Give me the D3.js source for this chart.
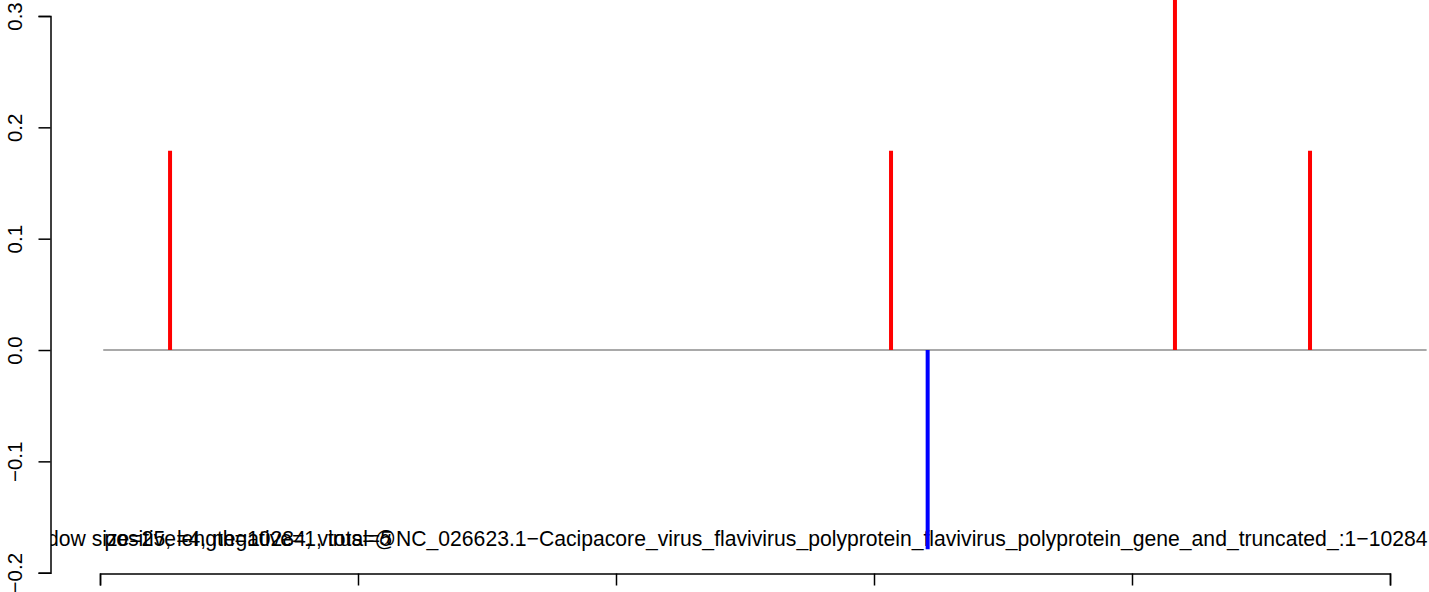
<!DOCTYPE html>
<html><head><meta charset="utf-8">
<script src="https://cdn.jsdelivr.net/npm/d3@7"></script>
<style>body{margin:0;background:#fff}svg{display:block}</style>
</head><body>
<script>
const positions = [543, 6132, 8333, 9380, 6416];
const values = [0.179, 0.179, 0.36, 0.179, -0.179];
const colors = ["#ff0000", "#ff0000", "#ff0000", "#ff0000", "#0000ff"];
const xTicks = [0, 2000, 4000, 6000, 8000, 10000];
const yTicks = [-0.2, -0.1, 0.0, 0.1, 0.2, 0.3];
const yTickLabels = ["\u22120.2", "\u22120.1", "0.0", "0.1", "0.2", "0.3"];
const baselineRange = [25, 10284];
const titleHead = "window size=25, length=10284, virus=@";
const titleTail = "NC_026623.1\u2212Cacipacore_virus_flavivirus_polyprotein_flavivirus_polyprotein_gene_and_truncated_:1\u221210284";
const titleOverlay = "positive=4, negative=1, total=5";

const W = 1429, H = 592;
const svg = d3.select("body").append("svg").attr("width", W).attr("height", H);
const x = d3.scaleLinear().domain([0, 10000]).range([100, 1390]);
const y = d3.scaleLinear().domain([-0.2, 0.3]).range([572.7, 16]);
const font = "Liberation Sans, Arial, Helvetica, sans-serif";

svg.append("defs").append("clipPath").attr("id", "plotclip")
  .append("rect").attr("x", 51).attr("y", 0).attr("width", W - 51).attr("height", H);

const g = svg.append("g").attr("clip-path", "url(#plotclip)");

// title texts: tail spans from the split point to the right edge
const splitX = 396, endX = 1428;
const probe = g.append("text").attr("font-family", font).attr("font-size", 20).text(titleTail);
const tailLen = probe.node().getComputedTextLength();
probe.remove();
const fs = 20 * (endX - splitX) / tailLen;
g.append("text").attr("x", splitX).attr("y", 546)
  .attr("font-family", font).attr("font-size", fs).attr("fill", "#000").text(titleTail);
g.append("text").attr("x", splitX).attr("y", 546).attr("text-anchor", "end")
  .attr("font-family", font).attr("font-size", fs).attr("fill", "#000").text(titleHead);
g.append("text").attr("x", splitX - 4).attr("y", 546).attr("text-anchor", "end")
  .attr("font-family", font).attr("font-size", fs).attr("fill", "#000").text(titleOverlay);

// zero line
g.append("line").attr("x1", x(baselineRange[0])).attr("x2", x(baselineRange[1]))
  .attr("y1", y(0)).attr("y2", y(0)).attr("stroke", "#555").attr("stroke-width", 1.2);

// bars
g.selectAll("line.bar").data(positions).enter().append("line").attr("class", "bar")
  .attr("x1", d => x(d)).attr("x2", d => x(d))
  .attr("y1", y(0)).attr("y2", (d, i) => y(values[i]))
  .attr("stroke", (d, i) => colors[i]).attr("stroke-width", 4);

// y axis
const ya = svg.append("g").attr("transform", "translate(50.5,0)")
  .call(d3.axisLeft(y).tickValues(yTicks).tickSize(12).tickFormat((d, i) => yTickLabels[i]));
ya.select(".domain").attr("stroke", "#000").attr("stroke-width", 1.5);
ya.selectAll(".tick line").attr("stroke", "#000").attr("stroke-width", 1.5);
ya.selectAll(".tick text").attr("font-family", font).attr("font-size", 20.5).attr("fill", "#000")
  .attr("transform", "rotate(-90)").attr("text-anchor", "middle")
  .attr("x", 0).attr("y", -28.5).attr("dy", 0);

// x axis
const xa = svg.append("g").attr("transform", "translate(0,573.5)")
  .call(d3.axisBottom(x).tickValues(xTicks).tickSize(12).tickFormat(""));
xa.select(".domain").attr("stroke", "#000").attr("stroke-width", 1.5);
xa.selectAll(".tick line").attr("stroke", "#000").attr("stroke-width", 1.5);
</script>
</body></html>
